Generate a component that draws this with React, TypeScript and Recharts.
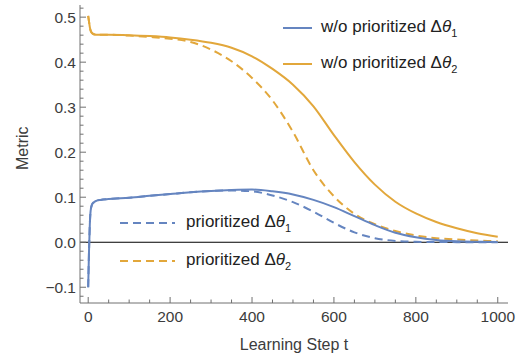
import React from 'react';
import { LineChart, Line, XAxis, YAxis, ReferenceLine } from 'recharts';

// learning step t
const steps = [0, 2, 4, 6, 9, 14, 20, 30, 50, 100, 150, 200, 250, 300, 350, 400, 450, 500, 550, 600, 650, 700, 750, 800, 850, 900, 950, 1000];
// w/o prioritized Δθ1 (solid blue)
const woTheta1 = [-0.1, -0.02, 0.04, 0.07, 0.083, 0.089, 0.092, 0.094, 0.096, 0.099, 0.103, 0.107, 0.111, 0.114, 0.116, 0.117, 0.113, 0.106, 0.094, 0.078, 0.058, 0.038, 0.021, 0.011, 0.005, 0.002, 0.001, 0.0005];
// w/o prioritized Δθ2 (solid orange)
const woTheta2 = [0.503, 0.49, 0.478, 0.47, 0.465, 0.462, 0.461, 0.461, 0.461, 0.46, 0.458, 0.455, 0.45, 0.443, 0.432, 0.413, 0.385, 0.35, 0.302, 0.238, 0.178, 0.128, 0.09, 0.064, 0.045, 0.031, 0.02, 0.012];
// prioritized Δθ1 (dashed blue)
const prTheta1 = [-0.1, -0.02, 0.04, 0.07, 0.083, 0.089, 0.092, 0.094, 0.096, 0.099, 0.103, 0.107, 0.111, 0.114, 0.115, 0.113, 0.104, 0.089, 0.068, 0.043, 0.022, 0.009, 0.003, 0.001, 0.0005, 0.0002, 0.0001, 0.0001];
// prioritized Δθ2 (dashed orange)
const prTheta2 = [0.503, 0.49, 0.478, 0.47, 0.465, 0.462, 0.461, 0.461, 0.461, 0.459, 0.456, 0.452, 0.445, 0.428, 0.402, 0.365, 0.315, 0.245, 0.16, 0.102, 0.063, 0.04, 0.025, 0.015, 0.009, 0.006, 0.004, 0.002];

const xMajor = [0, 200, 400, 600, 800, 1000];
const xTicks = [0, 50, 100, 150, 200, 250, 300, 350, 400, 450, 500, 550, 600, 650, 700, 750, 800, 850, 900, 950, 1000];
const yMajor = [-0.1, 0, 0.1, 0.2, 0.3, 0.4, 0.5];
const yTicks = [-0.12, -0.1, -0.08, -0.06, -0.04, -0.02, 0, 0.02, 0.04, 0.06, 0.08, 0.1, 0.12, 0.14, 0.16, 0.18, 0.2, 0.22, 0.24, 0.26, 0.28, 0.3, 0.32, 0.34, 0.36, 0.38, 0.4, 0.42, 0.44, 0.46, 0.48, 0.5, 0.52];

const data = steps.map((t, i) => ({
    t,
    wo1: woTheta1[i],
    wo2: woTheta2[i],
    pr1: prTheta1[i],
    pr2: prTheta2[i],
}));

const BLUE = '#6585c0';
const ORANGE = '#e2a73b';
const AXIS = '#707070';
const LABEL = '#3c3c3c';
const FONT = '"Liberation Sans", Arial, Helvetica, sans-serif';
const DASH = '8 5';

const isMajor = (list: number[], v: number) => list.some(m => Math.abs(m - v) < 1e-9);

const fmtY = (v: number) => (Math.abs(v) < 1e-9 ? '0.0' : v.toFixed(1).replace('-', '\u2212'));

const BottomTick = (p: any) => {
    const { x, y, payload } = p;
    const major = isMajor(xMajor, payload.value);
    return (
        <g>
            <line x1={x} y1={y} x2={x} y2={y - (major ? 6 : 3.5)} stroke={AXIS} />
            {major && (
                <text x={x} y={y + 19} textAnchor="middle" fontSize={15.5} fill={LABEL} fontFamily={FONT}>
                    {payload.value}
                </text>
            )}
        </g>
    );
};

const TopTick = (p: any) => {
    const { x, y, payload } = p;
    const major = isMajor(xMajor, payload.value);
    return <line x1={x} y1={y} x2={x} y2={y + (major ? 6 : 3.5)} stroke={AXIS} />;
};

const LeftTick = (p: any) => {
    const { x, y, payload } = p;
    const major = isMajor(yMajor, payload.value);
    return (
        <g>
            <line x1={x} y1={y} x2={x + (major ? 6 : 3.5)} y2={y} stroke={AXIS} />
            {major && (
                <text x={x - 4} y={y} dy="0.36em" textAnchor="end" fontSize={15.5} fill={LABEL} fontFamily={FONT}>
                    {fmtY(payload.value)}
                </text>
            )}
        </g>
    );
};

const RightTick = (p: any) => {
    const { x, y, payload } = p;
    const major = isMajor(yMajor, payload.value);
    return <line x1={x} y1={y} x2={x - (major ? 6 : 3.5)} y2={y} stroke={AXIS} />;
};

function LegendItem({ color, dashed, sub, prefix, left, top }: { color: string; dashed: boolean; sub: string; prefix: string; left: number; top: number }) {
    const w = dashed ? 55 : 29;
    return (
        <div style={{ position: 'absolute', left, top, display: 'flex', alignItems: 'center', fontFamily: FONT, fontSize: 17, color: '#222', whiteSpace: 'nowrap', lineHeight: '20px' }}>
            <svg width={w} height={6} style={{ marginRight: dashed ? 11 : 9 }}>
                <line x1={0} y1={3} x2={w} y2={3} stroke={color} strokeWidth={2} strokeDasharray={dashed ? DASH : undefined} />
            </svg>
            <span>
                {prefix}Δ<i>θ</i>
                <sub style={{ fontSize: 11, verticalAlign: 'baseline', position: 'relative', top: 5 }}>{sub}</sub>
            </span>
        </div>
    );
}

export default function App() {
    return (
        <div style={{ position: 'relative', width: 523, height: 360, background: '#fff' }}>
            <style>{`body{margin:0}`}</style>
            <LineChart width={523} height={360} data={data} margin={{ top: 5, right: 15, left: 0, bottom: 0 }}>
                <XAxis xAxisId="b" dataKey="t" type="number" domain={[-20, 1025]} allowDataOverflow
                    ticks={xTicks} interval={0} tickSize={0} tickMargin={0} tickLine={false}
                    stroke={AXIS} height={57} tick={<BottomTick />} />
                <XAxis xAxisId="top" orientation="top" dataKey="t" type="number" domain={[-20, 1025]} allowDataOverflow
                    ticks={xTicks} interval={0} tickSize={0} tickMargin={0} tickLine={false}
                    stroke={AXIS} height={0} tick={<TopTick />} />
                <YAxis yAxisId="l" type="number" domain={[-0.135, 0.527]} allowDataOverflow
                    ticks={yTicks} interval={0} tickSize={0} tickMargin={0} tickLine={false}
                    stroke={AXIS} width={80} tick={<LeftTick />} />
                <YAxis yAxisId="r" orientation="right" type="number" domain={[-0.135, 0.527]} allowDataOverflow
                    ticks={yTicks} interval={0} tickSize={0} tickMargin={0} tickLine={false}
                    stroke={AXIS} width={0} tick={<RightTick />} />
                <ReferenceLine xAxisId="b" yAxisId="l" y={0} stroke="#000" strokeWidth={1.2} />
                <Line xAxisId="b" yAxisId="l" type="monotone" dataKey="pr1" stroke={BLUE} strokeWidth={2} strokeDasharray={DASH} dot={false} isAnimationActive={false} />
                <Line xAxisId="b" yAxisId="l" type="monotone" dataKey="pr2" stroke={ORANGE} strokeWidth={2} strokeDasharray={DASH} dot={false} isAnimationActive={false} />
                <Line xAxisId="b" yAxisId="l" type="monotone" dataKey="wo1" stroke={BLUE} strokeWidth={2} dot={false} isAnimationActive={false} />
                <Line xAxisId="b" yAxisId="l" type="monotone" dataKey="wo2" stroke={ORANGE} strokeWidth={2} dot={false} isAnimationActive={false} />
            </LineChart>

            <div style={{ position: 'absolute', left: 8, top: 155, transform: 'translate(0,-50%) rotate(-90deg)', transformOrigin: 'center', fontFamily: FONT, fontSize: 16, color: LABEL, width: 30, textAlign: 'center' }}>
                Metric
            </div>
            <div style={{ position: 'absolute', left: 0, top: 336, width: 588, textAlign: 'center', fontFamily: FONT, fontSize: 16, color: LABEL }}>
                Learning Step t
            </div>

            <LegendItem color={BLUE} dashed={false} prefix="w/o prioritized " sub="1" left={283} top={17} />
            <LegendItem color={ORANGE} dashed={false} prefix="w/o prioritized " sub="2" left={283} top={53} />
            <LegendItem color={BLUE} dashed prefix="prioritized " sub="1" left={120} top={212} />
            <LegendItem color={ORANGE} dashed prefix="prioritized " sub="2" left={120} top={250} />
        </div>
    );
}
